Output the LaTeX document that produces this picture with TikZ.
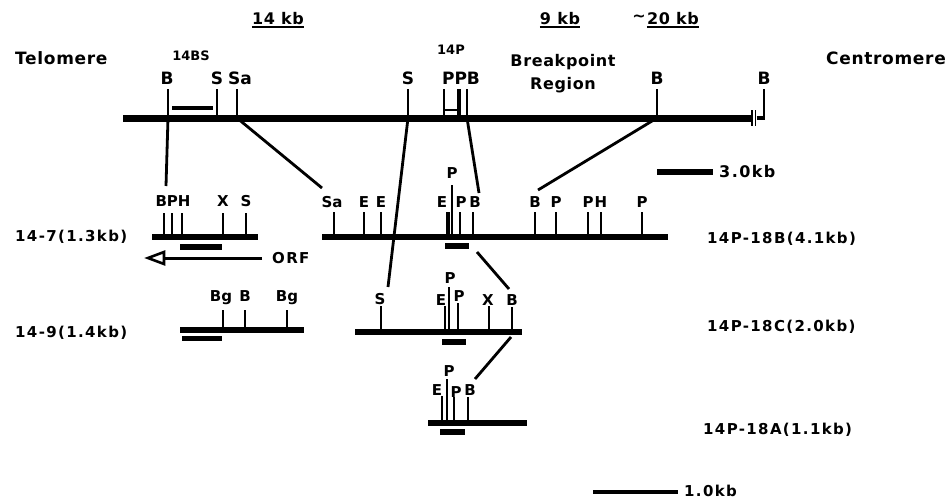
\documentclass[tikz,border=0pt]{standalone}
\usepackage{fontspec}
\setmainfont{DejaVu Sans}
\newfontfamily\lbl{DejaVu Sans}[LetterSpace=4]
\newfontfamily\wlbl{DejaVu Sans}[LetterSpace=9]
\usetikzlibrary{arrows.meta}
\begin{document}
\begin{tikzpicture}[x=1pt,y=-1pt,
  mainline/.style={line width=7pt},
  frag/.style={line width=6pt},
  tick/.style={line width=2.8pt},
  conn/.style={line width=2.8pt},
  probe/.style={line width=6.5pt},
  uline/.style={line width=1.8pt},
  msite/.style={font={\bfseries\fontsize{17}{19}\selectfont}, inner sep=0pt, anchor=base},
  site/.style={font={\bfseries\fontsize{15}{17}\selectfont}, inner sep=0pt, anchor=base},
  small/.style={font={\bfseries\fontsize{13}{15}\selectfont}, inner sep=0pt, anchor=base},
  big/.style={font={\lbl\bfseries\fontsize{17}{19}\selectfont}, inner sep=0pt, anchor=base},
  kb/.style={font={\lbl\bfseries\fontsize{16}{18}\selectfont}, inner sep=0pt, anchor=base},
  fname/.style={font={\wlbl\bfseries\fontsize{15}{17}\selectfont}, inner sep=0pt, anchor=west}]
\fill[white] (0,0) rectangle (949,499);
\useasboundingbox (0,0) rectangle (949,499);

% ---------- top labels ----------
\node[kb] (k14) at (278,24) {14 kb};
\draw[uline] ([yshift=-3pt]k14.base west) -- ([yshift=-3pt]k14.base east);
\node[kb] (k9) at (560,24) {9 kb};
\draw[uline] ([yshift=-3pt]k9.base west) -- ([yshift=-3pt]k9.base east);
\node[kb] (k20) at (673,24) {20 kb};
\draw[uline] ([yshift=-3pt]k20.base west) -- ([yshift=-3pt]k20.base east);
\node[kb, anchor=base east] (tl) at ([xshift=-1pt]k20.base west) {\raisebox{3pt}{\textasciitilde}};

\node[big, anchor=base west] (tel) at (15,64) {Telomere};
\node[big, anchor=base east] (cen) at (946,64) {Centromere};
\node[kb] (bp1) at (563,66) {Breakpoint};
\node[kb] (bp2) at (563,89) {Region};
\node[small] (l14bs) at (191,60) {14BS};
\node[small] (l14p) at (451,54) {14P};

% ---------- main map ----------
\draw[mainline] (123,118) coordinate (mL) -- (751,118) coordinate (mR);
\draw[line width=1.8pt] (752,110) -- (752,126);
\draw[line width=1.8pt] (755.5,110) -- (755.5,126);
\draw[line width=4.5pt] (756.5,118) -- (765,118);
\foreach \n/\x in {B1/168,S1/217,Sa/237,S2/408,P1/444,B2/467,B3/657,B4/764}{
  \coordinate (m\n) at (\x,118);
  \draw[tick] (m\n) -- ++(0,-29);
}
\coordinate (mP2) at (459,118);
\draw[line width=3.5pt] (mP2) -- ++(0,-29);
\draw[line width=3.5pt] (172,108) -- (213,108);
\draw[line width=2.4pt] (444,110) -- (459,110);
\node[msite] (tB1) at (167,84) {B};
\node[msite] (tS1) at (217,84) {S};
\node[msite] (tSa) at (240,84) {Sa};
\node[msite] (tS2) at (408,84) {S};
\node[msite] (tPPB) at (461,84) {PPB};
\node[msite] (tB3) at (657,84) {B};
\node[msite] (tB4) at (764,84) {B};

% ---------- 14-7 ----------
\node[fname] (n147) at (15,237) {14-7(1.3kb)};
\draw[frag] (152,237) -- (258,237);
\foreach \x in {164,172,182,223,246} \draw[tick] (\x,237) -- (\x,213);
\node[site] (a1) at (173,206) {BPH};
\node[site] (a2) at (223,206) {X};
\node[site] (a3) at (246,206) {S};
\draw[probe, line width=6pt] (180,247) -- (222,247);
\coordinate (orfR) at (262,258);
\coordinate (orfB) at (164,258);
\coordinate (orfL) at (148,258);
\draw[line width=3pt] (orfR) -- (orfB);
\draw[line width=2.6pt, line join=miter] (orfL) -- (164,252) -- (164,264) -- cycle;
\node[fname] (orf) at (272,258) {ORF};
\coordinate (c147) at (166,186);

% ---------- 14P-18B ----------
\node[fname] (n18b) at (707,239) {14P-18B(4.1kb)};
\draw[frag] (322,237) -- (668,237);
\foreach \x in {334,364,381,460,473,535,556,588,601,642} \draw[tick] (\x,237) -- (\x,212);
\draw[line width=4pt] (448,237) -- (448,212);
\draw[tick] (452,237) -- (452,185);
\node[site] (b1) at (332,207) {Sa};
\node[site] (b2) at (364,207) {E};
\node[site] (b3) at (381,207) {E};
\node[site] (b4) at (442,207) {E};
\node[site] (b5) at (452,178) {P};
\node[site] (b6) at (461,207) {P};
\node[site] (b7) at (475,207) {B};
\node[site] (b8) at (535,207) {B};
\node[site] (b9) at (556,207) {P};
\node[site] (b10) at (588,207) {P};
\node[site] (b11) at (601,207) {H};
\node[site] (b12) at (642,207) {P};
\draw[probe] (445,246) coordinate (p18bL) -- (469,246) coordinate (p18bR);
\coordinate (p18b) at (477,252);
\coordinate (cSa) at (322,188);
\coordinate (cB18B) at (479,193);
\coordinate (cB2) at (538,190);

% scale 3.0kb
\draw[line width=5.5pt] (657,172) coordinate (s3L) -- (713,172) coordinate (s3R);
\node[fname, font={\wlbl\bfseries\fontsize{16}{18}\selectfont}] (s3) at (719,172) {3.0kb};

% ---------- 14-9 ----------
\node[fname] (n149) at (15,333) {14-9(1.4kb)};
\draw[frag] (180,330) -- (304,330);
\foreach \x in {223,245,287} \draw[tick] (\x,330) -- (\x,310);
\node[site] (d1) at (221,301) {Bg};
\node[site] (d2) at (245,301) {B};
\node[site] (d3) at (287,301) {Bg};
\draw[probe, line width=5.5pt] (182,338.5) -- (222,338.5);

% ---------- 14P-18C ----------
\node[fname] (n18c) at (707,327) {14P-18C(2.0kb)};
\draw[frag] (355,332) -- (522,332);
\draw[tick] (381,332) -- (381,306);
\draw[tick] (445,332) -- (445,306);
\draw[tick] (449,332) -- (449,287);
\draw[tick] (458,332) -- (458,303);
\draw[tick] (489,332) -- (489,306);
\draw[tick] (512,332) -- (512,307);
\node[site] (e1) at (380,304) {S};
\node[site] (e2) at (441,305) {E};
\node[site] (e3) at (450,283) {P};
\node[site] (e4) at (459,301) {P};
\node[site] (e5) at (488,305) {X};
\node[site] (e6) at (512,305) {B};
\draw[probe] (442,342) -- (466,342);
\coordinate (cS18C) at (388,287);
\coordinate (cB18Ct) at (509,289);
\coordinate (cB18Cb) at (511,337);

% ---------- 14P-18A ----------
\node[fname] (n18a) at (703,430) {14P-18A(1.1kb)};
\draw[frag] (428,423) -- (527,423);
\draw[tick] (442,423) -- (442,396);
\draw[tick] (447,423) -- (447,379);
\draw[tick] (454,423) -- (454,397);
\draw[tick] (468,423) -- (468,397);
\node[site] (f1) at (449,376) {P};
\node[site] (f2) at (437,395) {E};
\node[site] (f3) at (456,397) {P};
\node[site] (f4) at (470,395) {B};
\draw[probe] (440,432) -- (465,432);
\coordinate (c18A) at (475,379);

% scale 1.0kb
\draw[line width=4.5pt] (593,492) coordinate (s1L) -- (678,492) coordinate (s1R);
\node[fname, font={\wlbl\bfseries\fontsize{15}{17}\selectfont}] (s1) at (684,491) {1.0kb};

% ---------- connectors ----------
\draw[conn] (mB1) -- (c147);
\draw[conn] (mSa) -- (cSa);
\draw[conn] (mS2) -- (cS18C);
\draw[conn] (mB2) -- (cB18B);
\draw[conn] (mB3) -- (cB2);
\draw[conn] (p18b) -- (cB18Ct);
\draw[conn] (cB18Cb) -- (c18A);
\end{tikzpicture}
\end{document}
